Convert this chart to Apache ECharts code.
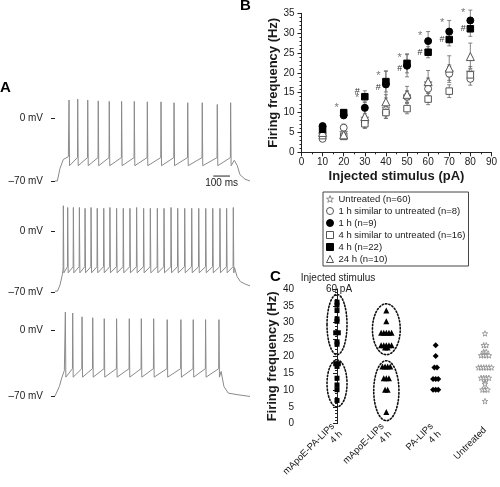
<!DOCTYPE html>
<html><head><meta charset="utf-8">
<script src="https://cdn.jsdelivr.net/npm/echarts@6/dist/echarts.min.js"></script>
<style>html,body{margin:0;padding:0;background:#fff}#c{width:500px;height:487px}</style>
</head><body><div id="c"></div>
<script>
// ================= DATA =================
// ---- Panel A: three current-clamp recordings (time in ms, potential in mV)
const trace1SpikeMs = [84,136,196,259,325,399,475,553,635,713,795,882,972,1052];
const trace1PeakMv  = [20,21,20,19,18.5,18.5,18.5,18,18,17,17,17,15,17];
const trace1TroughMv = -53;
const trace1ThresholdMv = -44;
const trace1Onset  = [[0,-70],[14,-70],[30,-56],[50,-46],[80,-43]];
const trace1Offset = [[1074,-47],[1092,-53],[1108,-63],[1138,-68],[1168,-70]];

const trace2SpikeMs = [50,76,110,146,180,216,253,292,329,369,409,449,489,531,571,613,653,695,735,777,819,861,903,945,988,1028,1068];
const trace2PeakMv  = [29,27,27,27,26,27,26,26,27,26,26,26,27,26,26,26,26,27,26,26,26,26,26,26,26,26,27];
const trace2TroughMv = -48;
const trace2ThresholdMv = -41;
const trace2Onset  = [[0,-69],[15,-69],[30,-62],[44,-50],[48,-44]];
const trace2Offset = [[1075,-42],[1090,-52],[1110,-58],[1140,-61],[1168,-63]];

const trace3SpikeMs = [62,106,162,226,295,369,445,517,591,672,754,828,902,982];
const trace3PeakMv  = [19,18,14,13,12,12,12,12,12,11,11,11,11,11];
const trace3TroughMv = -50;
const trace3ThresholdMv = -41;
const trace3Onset  = [[0,-70],[10,-70],[26,-60],[40,-51],[56,-43]];
const trace3Offset = [[995,-44],[1012,-60],[1038,-67],[1108,-69],[1168,-70.5]];

const traceTickMv = [-70, 0];
const scaleBarMs = 100;
const scaleBarStartMs = 948;
const scaleBarMv = -64.5;

// ---- Panel B: firing frequency (Hz) vs injected stimulus (pA)
const stimulusPA = [10,20,30,40,50,60,70,80];
const untreatedHz    = [4.6,5.0,8.6,11.0,14.2,17.5,20.3,20.2];
const untreatedErr   = [0.3,0.4,0.6,0.8,1.0,1.2,1.3,1.4];
const h1SimilarHz    = [3.4,6.2,7.6,10.0,14.0,16.0,19.8,18.5];
const h1SimilarErr   = [0.6,0.9,1.4,1.5,1.5,1.8,2.2,1.6];
const h1Hz           = [6.6,9.3,11.2,17.1,21.8,28.0,30.4,33.2];
const h1Err          = [0.6,0.8,1.5,3.4,2.8,2.4,2.8,2.6];
const h4SimilarHz    = [4.2,4.0,7.2,10.0,11.0,13.4,15.4,19.5];
const h4SimilarErr   = [0.5,0.6,1.2,1.4,1.3,1.4,1.6,1.6];
const h4Hz           = [5.8,10.0,14.0,17.8,22.4,25.2,28.4,31.1];
const h4Err          = [0.5,0.7,1.5,2.6,2.4,1.4,1.6,1.9];
const h24Hz          = [5.0,4.4,9.0,12.7,14.6,17.8,21.2,24.1];
const h24Err         = [0.8,0.8,1.4,1.8,2.0,2.8,3.1,3.4];
const seriesNames = ['Untreated (n=60)','1 h similar to untreated (n=8)','1 h (n=9)',
                     '4 h similar to untreated (n=16)','4 h (n=22)','24 h (n=10)'];
const asteriskMarks = [[16.6,11.1],[26.4,13.6],[36.4,19.2],[46.5,23.8],[56.2,29.4],[66.6,32.5],[76.6,35.2]];
const hashMarks     = [[26.4,15.4],[36.4,16.4],[46.5,21.1],[56.2,25.2],[66.6,28.3],[76.6,31.1]];

// ---- Panel C: individual cells at 60 pA
const cCategories = ['mApoE-PA-LIPs\n4 h','mApoE-LIPs\n4 h','PA-LIPs\n4 h','Untreated'];
const mApoEPALIPs4hHz = [36.1,35.2,33.6,31.1,30.4,27.0,27.0,24.3,23.6,17.8,17.8,17.0,13.5,11.5,10.1,6.9];
const mApoELIPs4hHz   = [33.6,30.4,27,27,27,27,27,23.3,23.3,23.3,23.3,23.3,22.6,22.6,17,17,17,17,13.5,13.5,13.5,10.1,10.1,3.5];
const PALIPs4hHz      = [23.3,20.1,16.7,16.7,13.3,13.3,13.3,10.1,10.1,10.1];
const untreatedCHz    = [26.8,23.3,23.3,21.3,21.3,20.3,20.3,20.3,20.3,16.7,16.7,16.7,16.7,16.7,16.7,13.6,13.6,13.6,13.6,12.3,11.8,10.1,10.1,10.1,6.7];
const cGroups = [[0,20.5,38.4],[0,5.0,18.9],[1,20.5,35.6],[1,0.9,18.7]]; // [column, low Hz, high Hz]

// ================= LAYOUT / STYLE =================
const FONT = '"Liberation Sans", Arial, Helvetica, sans-serif';
const TXT = '#1a1a1a';
const TRACE_COLOR = '#8a8a8a';
const traceLayout = [{zero:118, m70:181},{zero:231, m70:292},{zero:330, m70:396}];
const TRACE_LEFT = 55, TRACE_W = 195, T_MAX = 1168, MV_MIN = -80, MV_MAX = 35;
const C_UNIT_PX = 49.33, SWARM_STEP_PX = 2.6, ELLIPSE_PAD_PX = 8.7;
const STAR = 'path://M0,-10L2.35,-3.24L9.51,-3.09L3.8,1.24L5.88,8.09L0,4.2L-5.88,8.09L-3.8,1.24L-9.51,-3.09L-2.35,-3.24Z';

function buildTrace(onset, spikes, peaks, trough, thr, offset){
  const pts = onset.slice();
  spikes.forEach((t,i)=>{ pts.push([t-1.5,thr]); pts.push([t,peaks[i]]); pts.push([t+3,trough]); });
  return pts.concat(offset);
}
const traces = [
  buildTrace(trace1Onset,trace1SpikeMs,trace1PeakMv,trace1TroughMv,trace1ThresholdMv,trace1Offset),
  buildTrace(trace2Onset,trace2SpikeMs,trace2PeakMv,trace2TroughMv,trace2ThresholdMv,trace2Offset),
  buildTrace(trace3Onset,trace3SpikeMs,trace3PeakMv,trace3TroughMv,trace3ThresholdMv,trace3Offset)
];

function swarm(values, col){
  const counts = {}, seen = {};
  values.forEach(v=>counts[v]=(counts[v]||0)+1);
  return values.map(v=>{ const k = seen[v]||0; seen[v]=k+1; const n = counts[v];
    return [col + (k-(n-1)/2)*SWARM_STEP_PX/C_UNIT_PX, v]; });
}
const cCols = [mApoEPALIPs4hHz, mApoELIPs4hHz, PALIPs4hHz, untreatedCHz];
function groupHalfWidth(col, lo, hi){
  const vals = cCols[col].filter(v=>v>=lo && v<=hi);
  const counts = {}; vals.forEach(v=>counts[v]=(counts[v]||0)+1);
  const maxN = Math.max(...Object.values(counts));
  return (maxN-1)/2*SWARM_STEP_PX + ELLIPSE_PAD_PX;
}

const grids = [], xAxes = [], yAxes = [], series = [];
traceLayout.forEach((L,i)=>{
  const ppm = (L.m70-L.zero)/70;
  grids.push({left:TRACE_LEFT, width:TRACE_W, top:L.zero - MV_MAX*ppm, height:(MV_MAX-MV_MIN)*ppm});
  xAxes.push({gridIndex:i, type:'value', min:0, max:T_MAX, show:false});
  yAxes.push({gridIndex:i, type:'value', min:MV_MIN, max:MV_MAX, offset:2,
    axisLine:{show:false}, splitLine:{show:false},
    axisTick:{show:true, customValues:traceTickMv, length:4, lineStyle:{color:'#222', width:1}},
    axisLabel:{customValues:traceTickMv, margin:10, fontSize:10, color:TXT, fontFamily:FONT,
      formatter:v=> v===0 ? '0 mV' : '\u201370 mV'}});
  series.push({type:'line', xAxisIndex:i, yAxisIndex:i, data:traces[i], showSymbol:false, symbol:'none',
    clip:false, silent:true, animation:false, lineStyle:{color:TRACE_COLOR, width:1}});
});
// scale bar in trace 1
series.push({type:'line', xAxisIndex:0, yAxisIndex:0, data:[[scaleBarStartMs,scaleBarMv],[scaleBarStartMs+scaleBarMs,scaleBarMv]],
  symbol:'none', clip:false, silent:true, animation:false, lineStyle:{color:'#222', width:1}});
series.push({type:'custom', xAxisIndex:0, yAxisIndex:0, silent:true, animation:false,
  data:[[scaleBarStartMs+scaleBarMs/2, scaleBarMv]],
  renderItem:(p,api)=>{const c=api.coord([api.value(0),api.value(1)]);
    return {type:'text', x:c[0], y:c[1]+2, style:{text:scaleBarMs+' ms', align:'center', verticalAlign:'top', fontSize:10, fontFamily:FONT, fill:TXT}};}});

// ---- Panel B grid (index 3)
grids.push({left:301.5, top:13.3, width:194.1, height:139});
const axisCommon = {axisLine:{lineStyle:{color:'#222', width:1}}, axisTick:{length:4, lineStyle:{color:'#222'}},
  splitLine:{show:false}};
xAxes.push(Object.assign({gridIndex:3, type:'value', min:0, max:90, interval:10,
  name:'Injected stimulus (pA)', nameLocation:'middle', nameGap:18,
  nameTextStyle:{fontSize:13, fontWeight:'bold', color:TXT, fontFamily:FONT},
  axisLabel:{fontSize:10, color:TXT, fontFamily:FONT, margin:5},
  minorTick:{show:true, splitNumber:2, length:2, lineStyle:{color:'#222'}}}, axisCommon));
yAxes.push(Object.assign({gridIndex:3, type:'value', min:0, max:35, interval:5,
  name:'Firing frequency (Hz)', nameLocation:'middle', nameGap:20,
  nameTextStyle:{fontSize:13, fontWeight:'bold', color:TXT, fontFamily:FONT},
  axisLabel:{fontSize:10, color:TXT, fontFamily:FONT, margin:7},
  minorTick:{show:true, splitNumber:5, length:2, lineStyle:{color:'#222'}}}, axisCommon));

function errSeries(hz, err){
  return {type:'custom', xAxisIndex:3, yAxisIndex:3, silent:true, animation:false, z:1,
    data: stimulusPA.map((x,i)=>[x,hz[i],err[i]]),
    renderItem:(p,api)=>{
      const x=api.value(0), m=api.value(1), e=api.value(2);
      const hi=api.coord([x,m+e]), lo=api.coord([x,m-e]); const w=2;
      const st={stroke:'#666', lineWidth:0.8};
      return {type:'group', children:[
        {type:'line', shape:{x1:hi[0],y1:hi[1],x2:lo[0],y2:lo[1]}, style:st},
        {type:'line', shape:{x1:hi[0]-w,y1:hi[1],x2:hi[0]+w,y2:hi[1]}, style:st},
        {type:'line', shape:{x1:lo[0]-w,y1:lo[1],x2:lo[0]+w,y2:lo[1]}, style:st}]};
    }};
}
const bSpecs = [
  [untreatedHz, untreatedErr, STAR, 8, '#fff', '#888'],
  [h1SimilarHz, h1SimilarErr, 'circle', 7, '#fff', '#555'],
  [h1Hz, h1Err, 'circle', 7, '#000', '#000'],
  [h4SimilarHz, h4SimilarErr, 'rect', 6.5, '#fff', '#555'],
  [h4Hz, h4Err, 'rect', 6.5, '#000', '#000'],
  [h24Hz, h24Err, 'triangle', 8, '#fff', '#555']
];
bSpecs.forEach(s=>series.push(errSeries(s[0], s[1])));
bSpecs.forEach((s,i)=>series.push({name:seriesNames[i], type:'scatter', xAxisIndex:3, yAxisIndex:3, z:3+(s[4]==='#000'?1:0),
  symbol:s[2], symbolSize:s[3], animation:false, silent:true,
  itemStyle:{color:s[4], borderColor:s[5], borderWidth:1, opacity:1},
  data: stimulusPA.map((x,j)=>[x, s[0][j]])}));
function markSeries(marks, ch, color, size){
  return {type:'custom', xAxisIndex:3, yAxisIndex:3, silent:true, animation:false, z:5, data:marks,
    renderItem:(p,api)=>{const c=api.coord([api.value(0),api.value(1)]);
      return {type:'text', x:c[0], y:c[1], style:{text:ch, align:'center', verticalAlign:'middle', fontSize:size, fontFamily:FONT, fill:color}};}};
}
series.push(markSeries(asteriskMarks, '*', '#777', 11));
series.push(markSeries(hashMarks, '#', '#333', 9));

// ---- Panel C grid (index 4)
grids.push({left:301, right:0, top:289, height:146});
xAxes.push({gridIndex:4, type:'value', min:-0.73, max:3.304, axisLine:{show:false}, axisTick:{show:false}, splitLine:{show:false},
  axisLabel:{customValues:[0,1,2,3], rotate:45, margin:5, fontSize:9.5, lineHeight:11, color:TXT, fontFamily:FONT,
    formatter:v=>cCategories[Math.round(v)]}});
yAxes.push(Object.assign({gridIndex:4, type:'value', min:0, max:40, interval:5,
  name:'Firing frequency (Hz)', nameLocation:'middle', nameGap:20,
  nameTextStyle:{fontSize:13, fontWeight:'bold', color:TXT, fontFamily:FONT},
  axisLabel:{fontSize:10, color:TXT, fontFamily:FONT, margin:7},
  minorTick:{show:true, splitNumber:5, length:2, lineStyle:{color:'#222'}}}, axisCommon));
series.push({type:'custom', xAxisIndex:4, yAxisIndex:4, silent:true, animation:false, z:1,
  data: cGroups.map(g=>[g[0], g[1], g[2], groupHalfWidth(g[0], g[1], g[2])]),
  renderItem:(p,api)=>{
    const col=api.value(0), lo=api.value(1), hi=api.value(2), rx=api.value(3);
    const t=api.coord([col,hi]), b=api.coord([col,lo]);
    return {type:'ellipse', shape:{cx:t[0], cy:(t[1]+b[1])/2, rx:rx, ry:(b[1]-t[1])/2},
      style:{fill:null, stroke:'#111', lineWidth:1.6, lineDash:[1.4,2.0], lineCap:'round'}};
  }});
const cSpecs = [['rect',5,'#000','#000'],['triangle',6,'#000','#000'],['diamond',6,'#000','#000'],[STAR,5.5,'#fff','#888']];
cCols.forEach((vals,i)=>series.push({type:'scatter', xAxisIndex:4, yAxisIndex:4, z:3, clip:false, silent:true, animation:false,
  symbol:cSpecs[i][0], symbolSize:cSpecs[i][1], itemStyle:{color:cSpecs[i][2], borderColor:cSpecs[i][3], borderWidth:i===3?0.8:0, opacity:1},
  data: swarm(vals, i)}));

const legendData = seriesNames.map((n,i)=>({name:n, itemStyle:{color:bSpecs[i][4], borderColor:bSpecs[i][5], borderWidth:1}}));
const option = {
  animation:false,
  grid: grids, xAxis: xAxes, yAxis: yAxes, series: series,
  legend: {orient:'vertical', left:323, top:192, padding:[2,3,2,3], itemWidth:7, itemHeight:7, itemGap:2,
    borderColor:'#444', borderWidth:1, selectedMode:false, data: legendData,
    textStyle:{fontSize:9.5, lineHeight:10, color:TXT, fontFamily:FONT}},
  graphic: [
    {type:'text', left:0, top:80, style:{text:'A', font:'bold 15px '+FONT, fill:'#000'}},
    {type:'text', left:240, top:-2, style:{text:'B', font:'bold 15px '+FONT, fill:'#000'}},
    {type:'text', left:270, top:269, style:{text:'C', font:'bold 15px '+FONT, fill:'#000'}},
    {type:'text', x:338, y:278, style:{text:'Injected stimulus', align:'center', verticalAlign:'middle', font:'10px '+FONT, fill:TXT}},
    {type:'text', x:339, y:289, style:{text:'60 pA', align:'center', verticalAlign:'middle', font:'10px '+FONT, fill:TXT}}
  ]
};
const chart = echarts.init(document.getElementById('c'));
chart.setOption(option);
</script></body></html>
